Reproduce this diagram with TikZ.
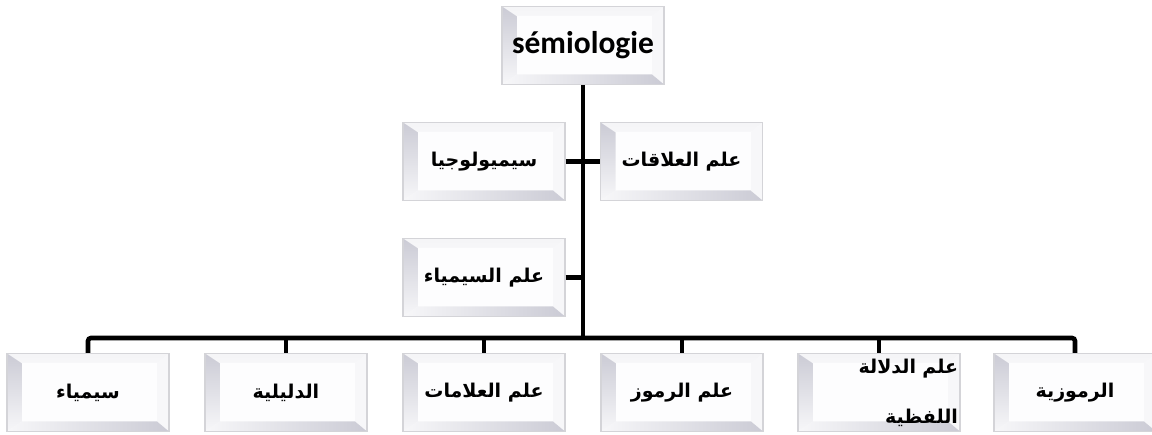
\documentclass[tikz,border=0pt]{standalone}
\usepackage{fontspec}
\setmainfont{Carlito}[BoldFont={Carlito Bold}]
\newfontfamily\arabicfont[Script=Arabic]{DejaVu Sans}
\TeXXeTstate=1
\definecolor{rim}{HTML}{D4D4D8}
\definecolor{bevdark}{HTML}{CBCBD5}
\definecolor{bevlight}{HTML}{F7F7F9}
\tikzset{
  bevelbox/.style={draw=rim, line width=1.3pt, fill=white,
    minimum width=162pt, minimum height=78pt, inner sep=0pt,
    font=\arabicfont\bfseries\fontsize{19}{22}\selectfont,
    path picture={
      \coordinate (@nw) at (path picture bounding box.north west);
      \coordinate (@ne) at (path picture bounding box.north east);
      \coordinate (@sw) at (path picture bounding box.south west);
      \coordinate (@se) at (path picture bounding box.south east);
      % top bevel
      \shade[top color=white!80!bevdark, bottom color=bevlight]
        (@nw) -- (@ne) -- ([xshift=-12pt,yshift=-10pt]@ne)
        -- ([xshift=15pt,yshift=-10pt]@nw) -- cycle;
      % left bevel
      \shade[top color=bevdark, bottom color=bevlight]
        (@nw) -- ([xshift=15pt,yshift=-10pt]@nw)
        -- ([xshift=15pt,yshift=10pt]@sw) -- (@sw) -- cycle;
      % right bevel
      \fill[bevlight] (@ne) -- (@se) -- ([xshift=-12pt,yshift=10pt]@se)
        -- ([xshift=-12pt,yshift=-10pt]@ne) -- cycle;
      % bottom bevel
      \shade[left color=bevlight, right color=bevdark]
        (@sw) -- ([xshift=15pt,yshift=10pt]@sw)
        -- ([xshift=-12pt,yshift=10pt]@se) -- (@se) -- cycle;
      % inner face
      \fill[white!97!bevdark] ([xshift=15pt,yshift=-10pt]@nw)
        rectangle ([xshift=-12pt,yshift=10pt]@se);
    }},
  link/.style={line width=4.6pt, black},
  toptext/.style={font=\normalfont\bfseries\fontsize{31.5}{36}\selectfont}
}
\newcommand{\ar}[1]{\beginR #1\endR}
\begin{document}
\begin{tikzpicture}[x=1pt, y=-1pt]
  \useasboundingbox (0,0) rectangle (1152,435);

  % root
  \node[bevelbox, toptext] (root) at (583,45.5) {sémiologie};

  % second level
  \node[bevelbox] (semiolojia) at (484,161.5) {\ar{سيميولوجيا}};
  \node[bevelbox] (alaqat) at (681.5,161.5) {\ar{علم العلاقات}};
  \node[bevelbox] (simiya) at (484,277.5) {\ar{علم السيمياء}};

  % bottom row
  \node[bevelbox] (b1) at (88,392.5) {\ar{سيمياء}};
  \node[bevelbox] (b2) at (286,392.5) {\ar{الدليلية}};
  \node[bevelbox] (b3) at (484,392.5) {\ar{علم العلامات}};
  \node[bevelbox] (b4) at (682,392.5) {\ar{علم الرموز}};
  \node[bevelbox, align=right, text width=158pt,
        font=\arabicfont\bfseries\fontsize{19}{50}\selectfont] (b5) at (879,392.5)
        {\ar{علم الدلالة}\\\ar{اللفظية}};
  \node[bevelbox] (b6) at (1075,392.5) {\ar{الرموزية}};

  \coordinate (hub) at (583,338);

  % connectors
  \draw[link] (root.south) -- (hub);
  \draw[link] (semiolojia.east) -- (alaqat.west);
  \draw[link] (simiya.east) -- (simiya.east -| root.south);
  \draw[link, rounded corners=3pt] (b1.north) -- (b1.north |- hub) -- (b6.north |- hub) -- (b6.north);
  \foreach \b in {b2,b3,b4,b5}
    \draw[link] (\b.north |- hub) -- (\b.north);
\end{tikzpicture}
\end{document}
